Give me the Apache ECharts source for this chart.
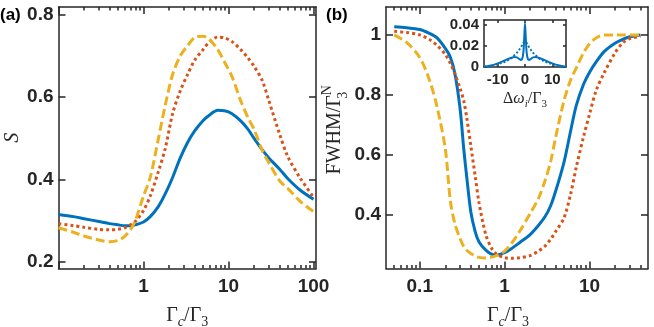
<!DOCTYPE html>
<html>
<head>
<meta charset="utf-8">
<title>S and FWHM vs Γc/Γ3</title>
<script src="https://cdn.jsdelivr.net/npm/echarts@6/dist/echarts.min.js"></script>
<style>
  html, body { margin: 0; padding: 0; background: #fff; }
  #chart { width: 654px; height: 327px; }
</style>
</head>
<body>
<div id="chart"></div>
<script>
// (a) S vs Γc/Γ3
const xA = [0.1, 0.15, 0.2, 0.3, 0.4, 0.5, 0.6, 0.7, 0.8, 1.0, 1.2, 1.5, 1.8, 2.2, 2.7, 3.3, 4, 5, 6, 7.5, 9, 11, 14, 17, 20, 25, 30, 40, 50, 70, 100];
const sBlue = [0.315, 0.310, 0.305, 0.298, 0.293, 0.290, 0.288, 0.288, 0.290, 0.297, 0.310, 0.335, 0.365, 0.405, 0.452, 0.49, 0.518, 0.543, 0.557, 0.568, 0.567, 0.560, 0.542, 0.522, 0.500, 0.472, 0.452, 0.425, 0.402, 0.374, 0.352];
const sRed = [0.293, 0.288, 0.284, 0.279, 0.278, 0.279, 0.283, 0.290, 0.298, 0.325, 0.360, 0.420, 0.475, 0.560, 0.615, 0.655, 0.690, 0.715, 0.735, 0.746, 0.744, 0.735, 0.715, 0.695, 0.675, 0.640, 0.590, 0.510, 0.455, 0.403, 0.357];
const sYellow = [0.283, 0.272, 0.263, 0.253, 0.249, 0.252, 0.262, 0.278, 0.300, 0.360, 0.405, 0.500, 0.580, 0.655, 0.700, 0.725, 0.745, 0.748, 0.740, 0.715, 0.685, 0.650, 0.590, 0.550, 0.522, 0.470, 0.440, 0.397, 0.378, 0.347, 0.322];

// (b) FWHM/Γ3^N vs Γc/Γ3
const xB = [0.05, 0.07, 0.1, 0.13, 0.16, 0.2, 0.23, 0.26, 0.3, 0.33, 0.36, 0.4, 0.45, 0.5, 0.6, 0.7, 0.8, 1.0, 1.2, 1.5, 2, 2.5, 3, 3.5, 4, 5, 6, 7, 8.5, 10, 12, 15, 20, 25, 30, 40];
const wBlue = [1.027, 1.024, 1.018, 1.005, 0.990, 0.955, 0.925, 0.870, 0.750, 0.620, 0.520, 0.410, 0.345, 0.310, 0.283, 0.270, 0.267, 0.275, 0.288, 0.308, 0.335, 0.365, 0.395, 0.432, 0.48, 0.575, 0.680, 0.765, 0.835, 0.875, 0.910, 0.945, 0.972, 0.986, 0.994, 1.0];
const wRed = [1.012, 1.008, 1.000, 0.985, 0.965, 0.935, 0.905, 0.870, 0.820, 0.780, 0.720, 0.630, 0.530, 0.440, 0.335, 0.290, 0.270, 0.258, 0.256, 0.258, 0.265, 0.280, 0.297, 0.320, 0.345, 0.390, 0.470, 0.560, 0.660, 0.735, 0.815, 0.875, 0.940, 0.975, 0.988, 0.995];
const wYellow = [1.000, 0.975, 0.925, 0.850, 0.760, 0.620, 0.445, 0.370, 0.320, 0.295, 0.282, 0.272, 0.264, 0.259, 0.257, 0.260, 0.265, 0.280, 0.305, 0.345, 0.405, 0.455, 0.515, 0.580, 0.660, 0.780, 0.850, 0.890, 0.940, 0.970, 0.990, 1.0, 1.0, 1.0, 1.0, 1.0];

// inset: spectrum vs Δωi/Γ3
const dW = [-15, -13, -11, -9, -7, -5, -4, -3, -2, -1.5, -1, -0.6, -0.3, 0, 0.3, 0.6, 1, 1.5, 2, 3, 4, 5, 7, 9, 11, 13, 15];
const specSolid = [0.0003, 0.0012, 0.0025, 0.0045, 0.0068, 0.0088, 0.0095, 0.0092, 0.0075, 0.0068, 0.008, 0.014, 0.027, 0.042, 0.027, 0.014, 0.008, 0.0068, 0.0075, 0.0092, 0.0095, 0.0088, 0.0068, 0.0045, 0.0025, 0.0012, 0.0003];
const specDotted = [0.0002, 0.0009, 0.002, 0.0035, 0.0055, 0.0085, 0.011, 0.0135, 0.017, 0.019, 0.021, 0.023, 0.024, 0.024, 0.024, 0.023, 0.021, 0.019, 0.017, 0.0135, 0.011, 0.0085, 0.0055, 0.0035, 0.002, 0.0009, 0.0002];

// 刻度
const ticksAX = [0.1, 1, 10, 100];
const labelsAX = [1, 10, 100];
const ticksBX = [0.1, 1, 10];
const ticksAY = [0.2, 0.4, 0.6, 0.8];
const ticksBY = [0.4, 0.6, 0.8, 1];
const ticksInX = [-10, 0, 10];
const ticksInY = [0, 0.02, 0.04];

const BLUE = '#0072BD', RED = '#D95319', YELLOW = '#EDB120', AXIS = '#262626';
const SANS = 'Liberation Sans', SERIF = 'Liberation Serif';
const lg = v => Math.log10(v);

function minorTicks(lo, hi) {
  const out = [];
  for (let d = Math.floor(lg(lo)); d <= Math.ceil(lg(hi)); d++) {
    for (let k = 2; k <= 9; k++) {
      const v = k * Math.pow(10, d);
      if (v > lo * 1.01 && v < hi * 0.99) out.push(lg(v));
    }
  }
  return out;
}

const line = { show: true, onZero: false, lineStyle: { color: AXIS, width: 1.5 } };
const tickStyle = { color: AXIS, width: 1.5 };
const tickFont = { fontFamily: SANS, fontWeight: 'bold', fontSize: 19, color: AXIS };

// 对数x轴（在log10空间上画）: 下/上 主刻度 + 次刻度
function logX(grid, lo, hi, majors, labels, name) {
  const base = { type: 'value', gridIndex: grid, min: lg(lo), max: lg(hi), splitLine: { show: false } };
  const nm = v => String(+Math.pow(10, v).toPrecision(3));
  return [
    Object.assign({}, base, {
      position: 'bottom', axisLine: line,
      axisTick: { inside: true, length: 7, lineStyle: tickStyle, customValues: majors.map(lg) },
      axisLabel: Object.assign({ customValues: labels.map(lg), formatter: nm, margin: 9 }, tickFont),
      name: name.text, nameLocation: 'middle', nameGap: name.gap, nameTextStyle: name.style
    }),
    Object.assign({}, base, {
      position: 'bottom', axisLine: { show: false },
      axisTick: { inside: true, length: 3.5, lineStyle: tickStyle, customValues: minorTicks(lo, hi) },
      axisLabel: { show: false }
    }),
    Object.assign({}, base, {
      position: 'top', axisLine: line,
      axisTick: { inside: true, length: 7, lineStyle: tickStyle, customValues: majors.map(lg) },
      axisLabel: { show: false }
    }),
    Object.assign({}, base, {
      position: 'top', axisLine: { show: false },
      axisTick: { inside: true, length: 3.5, lineStyle: tickStyle, customValues: minorTicks(lo, hi) },
      axisLabel: { show: false }
    })
  ];
}

function linY(grid, lo, hi, ticks, font, tickLen, name) {
  const base = { type: 'value', gridIndex: grid, min: lo, max: hi, splitLine: { show: false } };
  return [
    Object.assign({}, base, {
      position: 'left', axisLine: line,
      axisTick: { inside: true, length: tickLen, lineStyle: tickStyle, customValues: ticks },
      axisLabel: Object.assign({ customValues: ticks, formatter: v => String(+v.toFixed(3)), margin: 5 }, font),
      name: name ? name.text : '', nameLocation: 'middle', nameRotate: 90,
      nameGap: name ? name.gap : 0, nameTextStyle: name ? name.style : {}
    }),
    Object.assign({}, base, {
      position: 'right', axisLine: line,
      axisTick: { inside: true, length: tickLen, lineStyle: tickStyle, customValues: ticks },
      axisLabel: { show: false }
    })
  ];
}

const sub = (size, italic) => ({ fontFamily: SERIF, fontSize: size, lineHeight: size + 2, color: AXIS, verticalAlign: 'bottom', fontStyle: italic ? 'italic' : 'normal' });
const gammaName = {
  text: 'Γ{ci|c}/Γ{sb|3}',
  style: { fontFamily: SERIF, fontSize: 20, lineHeight: 28, color: AXIS, rich: { ci: sub(14, true), sb: sub(14) } }
};

const xAxes = [].concat(
  logX(0, 0.1, 107, ticksAX, labelsAX, Object.assign({ gap: 26 }, gammaName)),
  logX(1, 0.04, 49, ticksBX, ticksBX, Object.assign({ gap: 26 }, gammaName, {
    style: Object.assign({}, gammaName.style, { padding: [0, 18, 0, 0] })
  })),
  [
    {
      type: 'value', gridIndex: 2, min: -15, max: 15, position: 'bottom', splitLine: { show: false },
      axisLine: line,
      axisTick: { inside: true, length: 3, lineStyle: tickStyle, customValues: ticksInX },
      axisLabel: { customValues: ticksInX, formatter: v => String(v), margin: 5, fontFamily: SANS, fontWeight: 'bold', fontSize: 15, color: AXIS },
      name: 'Δ{it|ω}{si|i}/Γ{sb|3}', nameLocation: 'middle', nameGap: 17,
      nameTextStyle: { fontFamily: SERIF, fontSize: 16, lineHeight: 22, color: AXIS, rich: { it: { fontFamily: SERIF, fontSize: 16, fontStyle: 'italic', color: AXIS }, si: sub(11, true), sb: sub(11) } }
    },
    {
      type: 'value', gridIndex: 2, min: -15, max: 15, position: 'top', splitLine: { show: false },
      axisLine: line,
      axisTick: { inside: true, length: 3, lineStyle: tickStyle, customValues: ticksInX },
      axisLabel: { show: false }
    }
  ]
);

const yAxes = [].concat(
  linY(0, 0.184, 0.819, ticksAY, tickFont, 7, {
    text: 'S', gap: 32,
    style: { fontFamily: SERIF, fontSize: 20, fontStyle: 'italic', color: AXIS }
  }),
  linY(1, 0.222, 1.093, ticksBY, tickFont, 7, {
    text: 'FWHM/Γ{sb|3}{sp|N}', gap: 36,
    style: {
      fontFamily: SERIF, fontSize: 20, lineHeight: 30, color: AXIS, padding: [0, 0, 0, 16],
      rich: {
        sb: Object.assign(sub(14), { width: 0 }),
        sp: { fontFamily: SERIF, fontSize: 14, lineHeight: 16, color: AXIS, verticalAlign: 'top' }
      }
    }
  }),
  linY(2, 0, 0.045, ticksInY, { fontFamily: SANS, fontWeight: 'bold', fontSize: 15, color: AXIS }, 3, null)
);

const toLog = (xs, ys) => xs.map((x, i) => [lg(x), ys[i]]);
const pairs = (xs, ys) => xs.map((x, i) => [x, ys[i]]);

function curve(xi, yi, data, color, type, width) {
  return {
    type: 'line', xAxisIndex: xi, yAxisIndex: yi, data: data, showSymbol: false, smooth: 0.3,
    lineStyle: { color: color, width: width || 3, type: type || 'solid', cap: 'butt' }
  };
}

const option = {
  animation: false,
  backgroundColor: '#fff',
  grid: [
    { left: 58.5, top: 7, width: 257.5, height: 261.5, outerBoundsMode: 'none' },
    { left: 386, top: 7, width: 262, height: 261.5, outerBoundsMode: 'none' },
    { left: 484, top: 20, width: 82, height: 47, outerBoundsMode: 'none', show: true, backgroundColor: '#fff', borderWidth: 0 }
  ],
  xAxis: xAxes,
  yAxis: yAxes,
  graphic: [
    { type: 'text', left: 0, top: 7, style: { text: '(a)', font: 'bold 17px "Liberation Sans"', fill: '#000' } },
    { type: 'text', left: 326, top: 7, style: { text: '(b)', font: 'bold 17px "Liberation Sans"', fill: '#000' } }
  ],
  series: [
    curve(0, 0, toLog(xA, sBlue), BLUE),
    curve(0, 0, toLog(xA, sRed), RED, [3, 3]),
    curve(0, 0, toLog(xA, sYellow), YELLOW, [9, 4]),
    curve(4, 2, toLog(xB, wBlue), BLUE),
    curve(4, 2, toLog(xB, wRed), RED, [3, 3]),
    curve(4, 2, toLog(xB, wYellow), YELLOW, [9, 4]),
    curve(8, 4, pairs(dW, specDotted), BLUE, [2, 2], 2),
    curve(8, 4, pairs(dW, specSolid), BLUE, 'solid', 2)
  ]
};

const chart = echarts.init(document.getElementById('chart'));
chart.setOption(option);
window.addEventListener('resize', () => chart.resize());
</script>
</body>
</html>
